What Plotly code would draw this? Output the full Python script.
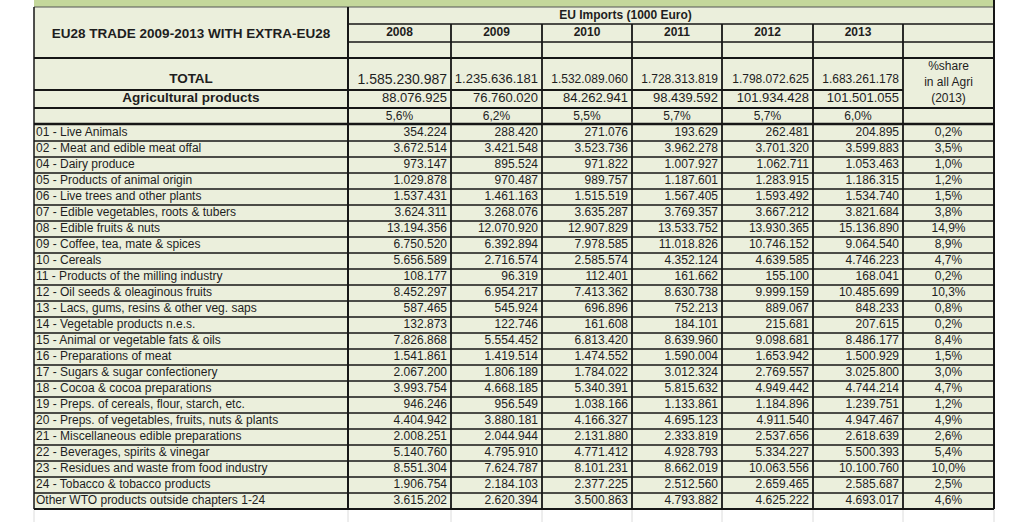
import plotly.graph_objects as go

# ---------------- data ----------------
title_text = "EU28 TRADE 2009-2013 WITH EXTRA-EU28"
header_text = "EU Imports (1000 Euro)"
share_header = ["%share", "in all Agri", "(2013)"]
years = ["2008", "2009", "2010", "2011", "2012", "2013"]

total_label = "TOTAL"
agri_label = "Agricultural products"
total = [1585230987, 1235636181, 1532089060, 1728313819, 1798072625, 1683261178]
agri = [88076925, 76760020, 84262941, 98439592, 101934428, 101501055]
agri_pct = [5.6, 6.2, 5.5, 5.7, 5.7, 6.0]

categories = [
    "01 - Live Animals",
    "02 - Meat and edible meat offal",
    "04 - Dairy produce",
    "05 - Products of animal origin",
    "06 - Live trees and other plants",
    "07 - Edible vegetables, roots & tubers",
    "08 - Edible fruits & nuts",
    "09 - Coffee, tea, mate & spices",
    "10 - Cereals",
    "11 - Products of the milling industry",
    "12 - Oil seeds & oleaginous fruits",
    "13 - Lacs, gums, resins & other veg. saps",
    "14 - Vegetable products n.e.s.",
    "15 - Animal or vegetable fats & oils",
    "16 - Preparations of meat",
    "17 - Sugars & sugar confectionery",
    "18 - Cocoa & cocoa preparations",
    "19 - Preps. of cereals, flour, starch, etc.",
    "20 - Preps. of vegetables, fruits, nuts & plants",
    "21 - Miscellaneous edible preparations",
    "22 - Beverages, spirits & vinegar",
    "23 - Residues and waste from food industry",
    "24 - Tobacco & tobacco products",
    "Other WTO products outside chapters 1-24",
]
v2008 = [354224, 3672514, 973147, 1029878, 1537431, 3624311, 13194356, 6750520,
         5656589, 108177, 8452297, 587465, 132873, 7826868, 1541861, 2067200,
         3993754, 946246, 4404942, 2008251, 5140760, 8551304, 1906754, 3615202]
v2009 = [288420, 3421548, 895524, 970487, 1461163, 3268076, 12070920, 6392894,
         2716574, 96319, 6954217, 545924, 122746, 5554452, 1419514, 1806189,
         4668185, 956549, 3880181, 2044944, 4795910, 7624787, 2184103, 2620394]
v2010 = [271076, 3523736, 971822, 989757, 1515519, 3635287, 12907829, 7978585,
         2585574, 112401, 7413362, 696896, 161608, 6813420, 1474552, 1784022,
         5340391, 1038166, 4166327, 2131880, 4771412, 8101231, 2377225, 3500863]
v2011 = [193629, 3962278, 1007927, 1187601, 1567405, 3769357, 13533752, 11018826,
         4352124, 161662, 8630738, 752213, 184101, 8639960, 1590004, 3012324,
         5815632, 1133861, 4695123, 2333819, 4928793, 8662019, 2512560, 4793882]
v2012 = [262481, 3701320, 1062711, 1283915, 1593492, 3667212, 13930365, 10746152,
         4639585, 155100, 9999159, 889067, 215681, 9098681, 1653942, 2769557,
         4949442, 1184896, 4911540, 2537656, 5334227, 10063556, 2659465, 4625222]
v2013 = [204895, 3599883, 1053463, 1186315, 1534740, 3821684, 15136890, 9064540,
         4746223, 168041, 10485699, 848233, 207615, 8486177, 1500929, 3025800,
         4744214, 1239751, 4947467, 2618639, 5500393, 10100760, 2585687, 4693017]
share2013 = [0.2, 3.5, 1.0, 1.2, 1.5, 3.8, 14.9, 8.9, 4.7, 0.2, 10.3, 0.8, 0.2,
             8.4, 1.5, 3.0, 4.7, 1.2, 4.9, 2.6, 5.4, 10.0, 2.5, 4.6]
series = [v2008, v2009, v2010, v2011, v2012, v2013]

# ---------------- style / layout grid ----------------
FONT = "Arial, 'Liberation Sans', sans-serif"
INK = "#1e1e1e"
BG = "#ebefdc"
GREEN = "#c4d79b"
LINE = "#161616"
W, H = 1024, 522

COLS = [34, 348, 451, 542, 632, 722, 813, 903, 994]   # column edges
R_TOP, R_HDR, R_YEAR, R_TOT, R_AGRI, R_PCT, R_DATA = 7, 24, 42, 58, 90, 108, 125
ROW_H = 16
PAD = 4
TOTAL_SIZES = [14, 13, 12, 12, 12, 12]


def fmt(v):
    return f"{v:,}".replace(",", ".")


def fpct(p):
    return f"{p:.1f}".replace(".", ",") + "%"


n = len(categories)
row_mid = [R_DATA + ROW_H * i + ROW_H / 2 for i in range(n)]
R_END = R_DATA + ROW_H * n
col_mid = [(COLS[k] + COLS[k + 1]) / 2 for k in range(len(COLS) - 1)]

fig = go.Figure()


def add_text(xs, ys, texts, pos, size, bold=False):
    t = [f"<b>{s}</b>" if bold else s for s in texts]
    fig.add_trace(go.Scatter(
        x=xs, y=ys, text=t, mode="text", textposition=pos,
        textfont=dict(family=FONT, size=size, color=INK),
        hoverinfo="skip", showlegend=False, cliponaxis=False,
    ))


# data rows
add_text([COLS[0] + 2] * n, row_mid, categories, "middle right", 12)
for j, vals in enumerate(series):
    add_text([COLS[j + 2] - PAD] * n, row_mid, [fmt(v) for v in vals], "middle left", 12)
add_text([col_mid[7]] * n, row_mid, [fpct(p) for p in share2013], "middle center", 12)

# header block
ny = len(years)
add_text([(COLS[0] + COLS[1]) / 2], [(R_TOP + R_TOT) / 2 + 2], [title_text], "middle center", 13.5, True)
add_text([(COLS[1] + COLS[7]) / 2], [(R_TOP + R_HDR) / 2], [header_text], "middle center", 12, True)
add_text(col_mid[1:7], [(R_HDR + R_YEAR) / 2] * ny, years, "middle center", 12, True)
add_text([(COLS[0] + COLS[1]) / 2], [R_AGRI - 10], [total_label], "middle center", 13.5, True)
add_text([(COLS[0] + COLS[1]) / 2], [(R_AGRI + R_PCT) / 2], [agri_label], "middle center", 13.5, True)
add_text([COLS[j + 2] - PAD for j in range(ny)], [R_AGRI - 10] * ny, [fmt(v) for v in total],
         "middle left", TOTAL_SIZES)
add_text([COLS[j + 2] - PAD for j in range(ny)], [(R_AGRI + R_PCT) / 2] * ny, [fmt(v) for v in agri],
         "middle left", 13)
add_text(col_mid[1:7], [(R_PCT + R_DATA) / 2] * ny, [fpct(p) for p in agri_pct], "middle center", 12)
add_text([col_mid[7]] * 3, [R_TOT + 9 + 16 * k for k in range(3)], share_header, "middle center", 12)

# backgrounds
shapes = [
    dict(type="rect", x0=COLS[0], x1=COLS[-1], y0=0, y1=R_TOP, fillcolor=GREEN, line_width=0, layer="below"),
    dict(type="rect", x0=COLS[0], x1=COLS[-1], y0=R_TOP, y1=R_END, fillcolor=BG, line_width=0, layer="below"),
]


def hline(y, x0, x1, w, c=LINE):
    shapes.append(dict(type="line", x0=x0, x1=x1, y0=y, y1=y, line=dict(color=c, width=w)))


def vline(x, y0, y1, w, c=LINE):
    shapes.append(dict(type="line", x0=x, x1=x, y0=y0, y1=y1, line=dict(color=c, width=w)))


# faint spreadsheet gridlines below table
for x in COLS:
    vline(x, R_END, H, 1, "#dcdcdc")

hline(R_TOP, COLS[0], COLS[-1], 1, "#555555")
hline(R_HDR, COLS[1], COLS[-1], 1.3)
hline(R_YEAR, COLS[1], COLS[-1], 1.3)
hline(R_TOT, COLS[0], COLS[-1], 2)
hline(R_AGRI, COLS[0], COLS[7], 2)
hline(R_PCT, COLS[0], COLS[-1], 2)
hline(R_DATA - 1, COLS[0], COLS[-1], 2.5)
for i in range(1, n):
    hline(R_DATA + ROW_H * i, COLS[0], COLS[-1], 1.6)
hline(R_END, COLS[0], COLS[-1], 2)

vline(COLS[0], R_TOP, R_END, 1.5)
vline(COLS[1], R_TOP, R_END, 2)
for x in COLS[2:-1]:
    vline(x, R_HDR, R_END, 1.8)
vline(COLS[-1], 0, R_END, 2)

fig.update_layout(
    width=W, height=H,
    margin=dict(l=0, r=0, t=0, b=0),
    paper_bgcolor="white", plot_bgcolor="white",
    xaxis=dict(range=[0, W], visible=False, fixedrange=True),
    yaxis=dict(range=[H, 0], visible=False, fixedrange=True),
    shapes=shapes,
    showlegend=False,
)

fig.write_html(
    "out.html",
    config={"displayModeBar": False},
    post_script="document.body.style.margin='0';document.body.style.overflow='hidden';",
)
